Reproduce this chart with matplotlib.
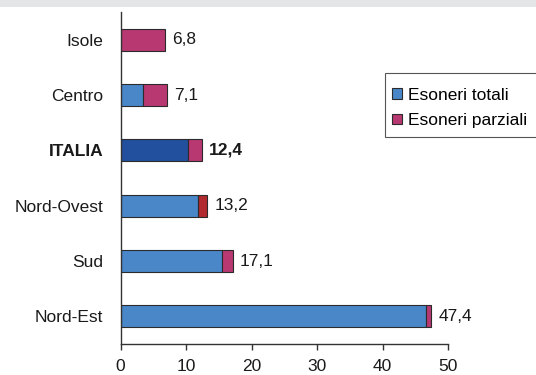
import matplotlib
matplotlib.use("Agg")
import matplotlib.pyplot as plt
from matplotlib.patches import Rectangle

plt.rcParams['font.family'] = ['Liberation Sans', 'DejaVu Sans']

regions = ["Isole", "Centro", "ITALIA", "Nord-Ovest", "Sud", "Nord-Est"]
totali = [0.0, 3.5, 10.3, 11.9, 15.5, 46.7]
parziali = [6.8, 3.6, 2.1, 1.3, 1.6, 0.7]
totals = [6.8, 7.1, 12.4, 13.2, 17.1, 47.4]
xticks = [0, 10, 20, 30, 40, 50]

c_tot = "#4a87c9"
c_par = "#b83872"
c_tot_it = "#22509f"
c_par_no = "#b02a30"
edge = "#2b2b2b"
fs = 12.5
W, H = 536, 375

fig = plt.figure(figsize=(W / 100, H / 100), dpi=100)
fig.patches.append(Rectangle((0, 1 - 7 / H), 1, 7 / H, transform=fig.transFigure,
                             facecolor="#e4e5e7", edgecolor="none", zorder=0))
ax = fig.add_axes([120.5 / W, 1 - 344 / H, (448 - 120.5) / W, (344 - 12) / H])

ypos = list(range(len(regions)))
tot_colors = [c_tot_it if r == "ITALIA" else c_tot for r in regions]
par_colors = [c_par_no if r == "Nord-Ovest" else c_par for r in regions]

h = 0.4
ax.barh(ypos, totali, height=h, color=tot_colors, edgecolor=edge, linewidth=0.8, zorder=2)
ax.barh(ypos, parziali, left=totali, height=h, color=par_colors, edgecolor=edge, linewidth=0.8, zorder=2)

for y, r, t in zip(ypos, regions, totals):
    ax.text(t + 1.1, y, f"{t:.1f}".replace(".", ","), va="center", ha="left",
            fontsize=fs, fontweight="bold" if r == "ITALIA" else "normal", color="#1a1a1a")

ax.set_ylim(len(regions) - 0.5, -0.5)
ax.set_xlim(0, 50)
ax.set_yticks(ypos)
ax.set_yticklabels(regions, fontsize=fs, color="#1a1a1a")
for lab in ax.get_yticklabels():
    if lab.get_text() == "ITALIA":
        lab.set_fontweight("bold")
ax.set_xticks(xticks)
ax.set_xticklabels([str(x) for x in xticks], fontsize=fs, color="#1a1a1a")
ax.tick_params(axis="y", length=0, pad=12.5)
ax.tick_params(axis="x", length=4, width=1, color="#333333", pad=7, direction="out")
for s in ["top", "right"]:
    ax.spines[s].set_visible(False)
for s in ["left", "bottom"]:
    ax.spines[s].set_color("#333333")
    ax.spines[s].set_linewidth(1)

# legend frame, running off the right edge of the figure
fig.patches.append(Rectangle((385 / W, 1 - 137 / H), 170 / W, 64 / H, transform=fig.transFigure,
                             facecolor="white", edgecolor="#555555", linewidth=0.8, zorder=1))
handles = [Rectangle((0, 0), 1, 1, facecolor=c_tot, edgecolor=edge, linewidth=0.8),
           Rectangle((0, 0), 1, 1, facecolor=c_par, edgecolor=edge, linewidth=0.8)]
leg = fig.legend(handles, ["Esoneri totali", "Esoneri parziali"],
                 loc="upper left", bbox_to_anchor=(392 / W, 1 - 87.5 / H),
                 fontsize=fs, frameon=False,
                 handlelength=0.55, handleheight=0.55, handletextpad=0.4,
                 borderpad=0, labelspacing=0.6, borderaxespad=0)

fig.savefig("out.png", dpi=100)
